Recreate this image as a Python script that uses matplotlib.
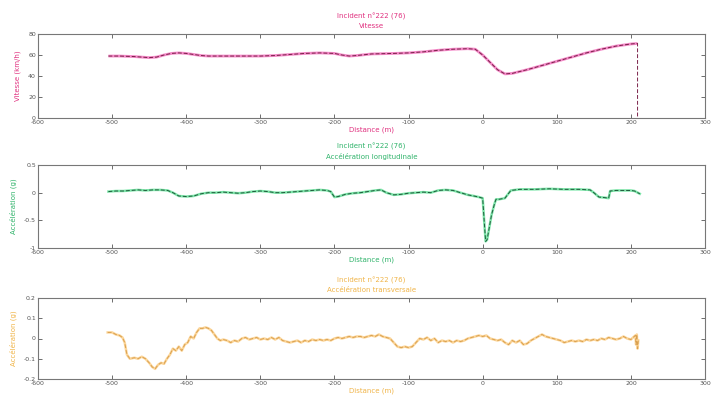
import matplotlib
matplotlib.use("Agg")
import matplotlib.pyplot as plt

title_main = "Incident n°222 (76)"
titles = ["Vitesse", "Accélération longitudinale", "Accélération transversale"]
ylabels = ["Vitesse (km/h)", "Accélération (g)", "Accélération (g)"]
xlabel = "Distance (m)"
xticks = [-600, -500, -400, -300, -200, -100, 0, 100, 200, 300]
yticks1 = [0, 20, 40, 60, 80]
yticks2 = [-1, -0.5, 0, 0.5]
yticks3 = [-0.2, -0.1, 0, 0.1, 0.2]

# Speed
d1 = [-505, -490, -470, -450, -440, -430, -420, -410, -400, -390, -380, -370, -350, -320,
      -300, -280, -260, -240, -220, -200, -190, -180, -170, -150, -120, -100, -80, -60,
      -40, -20, -10, 0, 10, 20, 30, 40, 60, 80, 100, 120, 140, 160, 180, 200, 209, 209]
v1 = [59, 59, 58.5, 57.5, 58, 60, 61.5, 62, 61.5, 60.5, 59.5, 59, 59, 59,
      59, 59.5, 60.5, 61.5, 62, 61.5, 60, 59, 59.5, 61, 61.5, 62, 63, 64.5,
      65.5, 66, 65.5, 60, 53, 46, 42, 42.5, 46, 50, 54, 58, 62, 65.5, 68.5, 70.5, 71, 0]

# Longitudinal acceleration
d2 = [-505, -495, -485, -475, -465, -455, -445, -435, -425, -418,
      -410, -400, -390, -380, -370, -360, -350, -340, -330, -320,
      -310, -300, -290, -280, -270, -260, -250, -240, -230, -220,
      -210, -205, -200, -195, -185, -175, -165, -155, -145, -137,
      -130, -120, -110, -100, -90, -80, -70, -60, -50, -40,
      -30, -20, -12, -5, 0, 2, 4, 6, 8, 10,
      12, 14, 16, 18, 22, 30, 38, 50, 70, 90,
      110, 130, 145, 150, 157, 165, 170, 172, 180, 190,
      200, 205, 212]
a2 = [0.02, 0.03, 0.03, 0.04, 0.05, 0.04, 0.05, 0.05, 0.04, 0.0,
      -0.06, -0.07, -0.06, -0.02, 0.0, 0.0, 0.01, 0.0, -0.01, 0.0,
      0.02, 0.03, 0.02, 0.0, 0.0, 0.01, 0.02, 0.03, 0.04, 0.05,
      0.04, 0.02, -0.08, -0.07, -0.03, -0.01, 0.0, 0.02, 0.04, 0.05,
      0.0, -0.04, -0.03, -0.01, 0.0, 0.01, 0.0, 0.04, 0.05, 0.04,
      0.0, -0.04, -0.06, -0.08, -0.1, -0.5, -0.88, -0.85, -0.7, -0.55,
      -0.4, -0.3, -0.2, -0.12, -0.12, -0.1, 0.04, 0.06, 0.06, 0.07,
      0.06, 0.06, 0.05, 0.0, -0.08, -0.09, -0.1, 0.03, 0.04, 0.04,
      0.04, 0.03, -0.02]

# Lateral acceleration
d3 = [-506, -500, -495, -490, -486, -483, -480, -476, -470, -465,
      -460, -455, -450, -446, -442, -438, -434, -430, -426, -422,
      -418, -414, -410, -406, -402, -398, -394, -390, -386, -382,
      -378, -374, -370, -366, -362, -358, -354, -350, -345, -340,
      -335, -330, -325, -320, -315, -310, -305, -300, -295, -290,
      -285, -280, -275, -270, -265, -260, -255, -250, -245, -240,
      -235, -230, -225, -220, -215, -210, -205, -200, -195, -190,
      -185, -180, -175, -170, -165, -160, -155, -150, -145, -140,
      -135, -130, -125, -120, -115, -110, -105, -100, -95, -90,
      -85, -80, -75, -70, -65, -60, -55, -50, -45, -40,
      -35, -30, -25, -20, -15, -10, -5, 0, 5, 10,
      15, 20, 25, 30, 35, 40, 45, 50, 55, 60,
      65, 70, 75, 80, 85, 90, 95, 100, 105, 110,
      115, 120, 125, 130, 135, 140, 145, 150, 155, 160,
      165, 170, 175, 180, 185, 190, 195, 200, 203, 206,
      207, 208, 209, 210]
a3 = [0.03, 0.03, 0.02, 0.015, 0.005, -0.02, -0.08, -0.1, -0.095, -0.1,
      -0.09, -0.1, -0.12, -0.14, -0.15, -0.13, -0.12, -0.125, -0.1, -0.08,
      -0.05, -0.06, -0.04, -0.06, -0.03, -0.02, 0.01, 0.0, 0.03, 0.05,
      0.05, 0.055, 0.05, 0.04, 0.02, 0.0, -0.01, -0.005, -0.01, -0.02,
      -0.01, -0.015, 0.0, 0.005, -0.005, 0.0, 0.005, -0.005, 0.0, -0.005,
      0.005, -0.005, 0.005, -0.01, -0.015, -0.02, -0.015, -0.01, -0.02, -0.01,
      -0.015, -0.005, -0.01, -0.005, -0.01, -0.005, -0.01, 0.0, 0.005, 0.0,
      0.005, 0.01, 0.005, 0.01, 0.01, 0.005, 0.01, 0.015, 0.01, 0.02,
      0.01, 0.005, 0.0, -0.02, -0.04, -0.045, -0.04, -0.045, -0.04, -0.02,
      0.0, -0.005, 0.005, -0.01, 0.0, -0.02, -0.01, -0.015, -0.01, -0.02,
      -0.01, -0.015, -0.01, 0.0, 0.005, 0.01, 0.015, 0.01, 0.015, 0.0,
      -0.005, -0.01, -0.005, -0.02, -0.03, -0.01, -0.02, -0.01, -0.03, -0.025,
      -0.01, 0.0, 0.01, 0.02, 0.01, 0.005, 0.0, -0.005, -0.01, -0.02,
      -0.015, -0.01, -0.015, -0.01, -0.015, -0.005, -0.01, -0.005, -0.01, 0.0,
      -0.005, 0.005, 0.0, -0.005, 0.0, 0.01, 0.0, -0.005, 0.005, 0.015,
      -0.03, 0.02, -0.05, -0.01]

text_colors = ["#e0307f", "#2fb36a", "#f0b448"]
light_colors = ["#f48ac8", "#7ee6aa", "#fcd69a"]
dark_colors = ["#7a2048", "#1d5a3a", "#d9a050"]
ylims = [(0, 80), (-1, 0.5), (-0.2, 0.2)]
yticks_all = [yticks1, yticks2, yticks3]
series = [(d1, v1), (d2, a2), (d3, a3)]

W, H = 711, 400
fig = plt.figure(figsize=(W / 100, H / 100), dpi=100)
boxes = [(38, 34, 705, 118), (38, 165, 705, 248), (38, 298, 705, 379)]

for i, (x0, y0, x1, y1) in enumerate(boxes):
    ax = fig.add_axes([x0 / W, 1 - y1 / H, (x1 - x0) / W, (y1 - y0) / H])
    d, v = series[i]
    if i == 0:
        ax.plot(d[:-1], v[:-1], color=light_colors[i], lw=2.0, solid_capstyle="butt")
    else:
        ax.plot(d, v, color=light_colors[i], lw=1.8)
    ax.plot(d, v, color=dark_colors[i], lw=0.7, ls=(0, (4, 2)))
    ax.set_xlim(-600, 300)
    ax.set_ylim(*ylims[i])
    ax.set_xticks(xticks)
    ax.set_yticks(yticks_all[i])
    ax.set_xticklabels([str(t) for t in xticks])
    ax.set_yticklabels([("%g" % t) for t in yticks_all[i]])
    ax.tick_params(direction="in", top=True, right=True, length=3, width=0.6,
                   labelsize=4.5, colors="#555555", pad=1.5)
    for s in ax.spines.values():
        s.set_color("#777777")
        s.set_linewidth(0.8)
    ax.set_title(title_main + "\n" + titles[i], fontsize=5, color=text_colors[i],
                 pad=4, linespacing=1.6)
    ax.set_xlabel(xlabel, fontsize=5, color=text_colors[i], labelpad=1)
    ax.set_ylabel(ylabels[i], fontsize=5, color=text_colors[i], labelpad=5)

fig.savefig("out.png", dpi=100)
